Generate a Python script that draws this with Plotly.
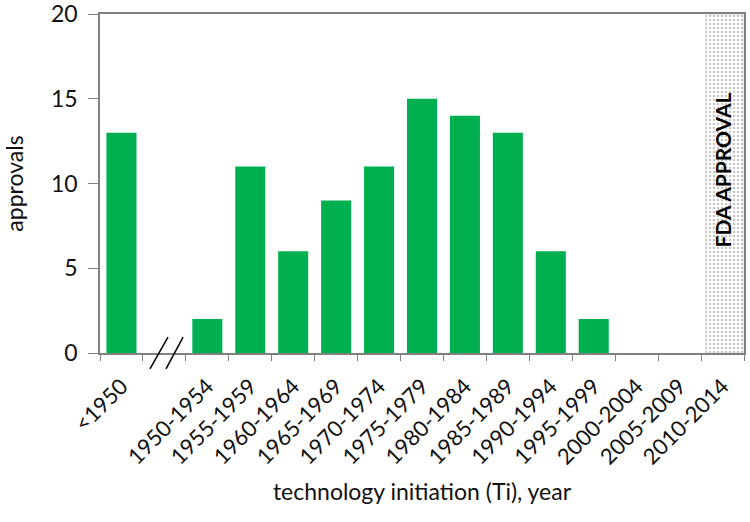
import plotly.graph_objects as go

categories = ["<1950", " ", "1950-1954", "1955-1959", "1960-1964", "1965-1969",
              "1970-1974", "1975-1979", "1980-1984", "1985-1989", "1990-1994",
              "1995-1999", "2000-2004", "2005-2009", "2010-2014"]
approvals = [13, None, 2, 11, 6, 9, 11, 15, 14, 13, 6, 2, 0, 0, None]
fda_category = ["2010-2014"]
fda_value = [20]
fda_label = "FDA APPROVAL"

FONT = "Lato, 'Open Sans', sans-serif"
TXT = "#111111"

fig = go.Figure()
fig.add_trace(go.Bar(x=categories, y=approvals, marker=dict(color="#00B050", line=dict(width=0)),
                     width=0.7, showlegend=False))
fig.add_trace(go.Bar(x=fda_category, y=fda_value, width=0.89, offset=-0.39,
                     marker=dict(color="white",
                                 pattern=dict(shape=".", fgcolor="#8a8a8a", bgcolor="white", size=4, solidity=0.3),
                                 line=dict(color="#d8d8d8", width=1)),
                     showlegend=False))

fig.add_annotation(x=fda_category[0], y=10.8, xref="x", yref="y", text="<b>" + fda_label + "</b>",
                   textangle=-90, showarrow=False, xshift=0,
                   font=dict(family=FONT, size=21, color="black"))

# axis break marks
for x0, x1 in [(0.0776, 0.1056), (0.1025, 0.129)]:
    fig.add_shape(type="line", xref="paper", yref="paper", x0=x0, y0=-0.047, x1=x1, y1=0.047,
                  line=dict(color="black", width=1.5))

fig.update_layout(
    width=750, height=522,
    margin=dict(l=100, r=6, t=14, b=169),
    plot_bgcolor="white", paper_bgcolor="white",
    barmode="overlay",
    font=dict(family=FONT, color=TXT),
    xaxis=dict(type="category", categoryorder="array", categoryarray=categories, automargin=False,
               tickson="boundaries", ticks="outside", ticklen=6, tickcolor="#808080",
               showline=True, linecolor="#808080", linewidth=1.5, mirror=True,
               tickangle=-45, tickfont=dict(size=22, color=TXT), ticklabelstandoff=10,
               title=dict(text="technology initiation (Ti), year", font=dict(size=23, color=TXT), standoff=15)),
    yaxis=dict(range=[0, 20], tickvals=[0, 5, 10, 15, 20], ticks="outside", ticklen=10, tickcolor="#808080",
               automargin=False, ticklabeloverflow="allow",
               showline=True, linecolor="#808080", linewidth=1.5, mirror=True, showgrid=False, zeroline=False,
               tickfont=dict(size=23, color=TXT), ticklabelstandoff=6,
               title=dict(text="approvals", font=dict(size=23, color=TXT), standoff=22)),
)

fig.write_html("out.html", config={"displayModeBar": False},
               post_script="document.body.style.margin='0';document.body.style.overflow='hidden';")
